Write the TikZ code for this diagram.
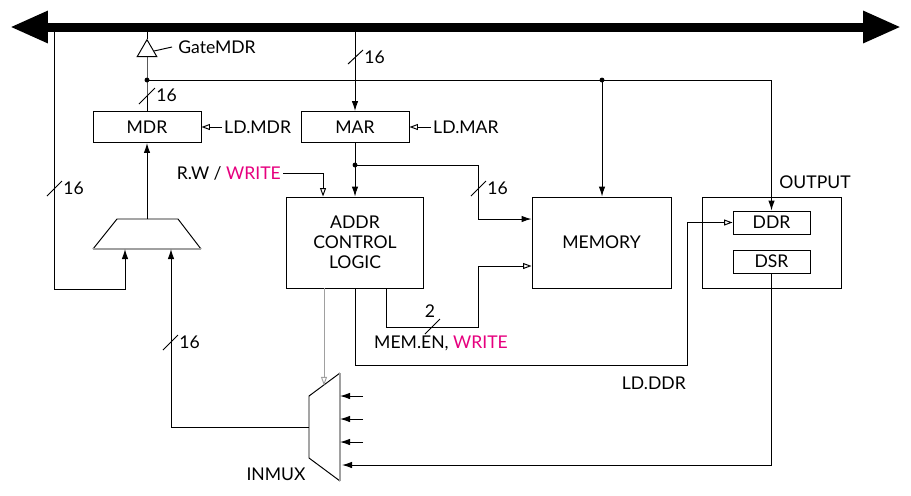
\documentclass[tikz,border=0pt]{standalone}
\usepackage{fontspec}
\setmainfont{Lato}
\usetikzlibrary{positioning}
\usetikzlibrary{arrows.meta}
\usetikzlibrary{shapes.geometric}
\definecolor{writemag}{RGB}{230,0,126}
\definecolor{muxgray}{RGB}{160,160,160}

\begin{document}
\begin{tikzpicture}[
        x = 0.02cm, y = -0.02cm, % one unit = one pixel of the drawing
        > = {Latex[length=2mm,width=1.3mm]}, % filled arrow head
        ctrl/.style = {-{Triangle[open,length=1.7mm,width=1.2mm]}}, % control signals
        line width = 0.55pt,
        font = \fontsize{10}{11.5}\selectfont,
        reg/.style = {draw, inner sep=0pt, align=center},
        bus/.style = {line width=0.18cm,
                      {Triangle[length=0.76cm,width=0.6cm]}-{Triangle[length=0.76cm,width=0.6cm]}},
        tristate/.style = {draw, isosceles triangle, shape border rotate=90,
                           isosceles triangle apex angle=60, inner sep=0pt, minimum size=0.34cm},
        widthlbl/.style = {anchor=north west, inner sep=0.5pt}
        ]
  \useasboundingbox (0,0) rectangle (911,495);

  % the bus
  \coordinate (busl) at (10,27);
  \coordinate (busr) at (901,27);
  \draw[bus] (busl) -- (busr);

  % blocks
  \node[reg, minimum width=2.16cm, minimum height=0.62cm] (mdr) at (147,127) {MDR};
  \node[reg, minimum width=2.16cm, minimum height=0.62cm] (mar) at (355,127) {MAR};
  \node[reg, minimum width=2.74cm, minimum height=1.82cm] (acl) at (355,242.5) {ADDR\\CONTROL\\LOGIC};
  \node[reg, minimum width=2.78cm, minimum height=1.82cm] (mem) at (601.5,242.5) {MEMORY};
  \node[reg, minimum width=2.78cm, minimum height=1.82cm] (out) at (771.5,242.5) {};
  \node (outlbl) at (815,182) {OUTPUT};
  \node[reg, minimum width=1.54cm, minimum height=0.46cm] (ddr) at (771.5,222.5) {DDR};
  \node[reg, minimum width=1.54cm, minimum height=0.46cm] (dsr) at (771.5,261.5) {DSR};

  % GateMDR
  \node[tristate] (gate) at (147,51) {};
  \node[anchor=west] (gatelbl) at (172,47) {GateMDR};
  \draw (gate.apex) -- (gate.apex |- busl);
  \draw (gate.east) -- (gatelbl.west);

  \coordinate (j1) at (147,80);
  \coordinate (j2) at (602,80);
  \coordinate (j3) at (355,165);
  \draw (gate.lower side) -- (j1) -- (mdr.north);
  \draw[->] (j1) -| (ddr.north);
  \draw[->] (j2) -- (j2 |- mem.north);
  \draw[->] (mar.north |- busl) -- (mar.north);
  \draw[->] (mar.south) -- (acl.north);
  \fill (j1) circle (1.4pt) (j2) circle (1.4pt) (j3) circle (1.4pt);

  % load signals
  \node[anchor=west, inner sep=1pt] (ldmdr) at (222,127) {LD.MDR};
  \node[anchor=west, inner sep=1pt] (ldmar) at (431,127) {LD.MAR};
  \draw[ctrl] (ldmdr.west) -- (mdr.east);
  \draw[ctrl] (ldmar.west) -- (mar.east);
  \node[anchor=east, inner sep=1pt] (rw) at (283,173) {R.W / \textcolor{writemag}{WRITE}};
  \draw[ctrl] (rw.east) -| ([xshift=0.74cm]acl.north west);

  % address to memory
  \coordinate (bend1) at (478,165);
  \coordinate (mema) at ([yshift=0.47cm]mem.west);
  \coordinate (memb) at ([yshift=-0.47cm]mem.west);
  \draw[->] (j3) -- (bend1) |- (mema);

  % MEM.EN, WRITE
  \coordinate (memen) at (478,327);
  \draw[ctrl] ([xshift=0.62cm]acl.south) |- (memen) |- (memb);
  \node (memenw) at (430,311) {2};
  \node (memenlbl) at (441,343) {MEM.EN, \textcolor{writemag}{WRITE}};

  % LD.DDR
  \coordinate (lddr) at (687,365);
  \draw[ctrl] (acl.south) |- (lddr) |- (ddr.west);
  \node[anchor=east, inner sep=1pt] (lddrlbl) at (688,383) {LD.DDR};

  % MDR mux
  \coordinate (mx1) at (93,249);
  \coordinate (mx2) at (117,219);
  \coordinate (mx3) at (178,219);
  \coordinate (mx4) at (201,249);
  \draw (mx1) -- (mx2) -- (mx3) -- (mx4);
  \draw[muxgray, line width=1.2pt] (mx1) -- (mx4);
  \draw[->] (mx2 -| mdr.south) -- (mdr.south);

  % INMUX
  \coordinate (im1) at (309,396);
  \coordinate (im2) at (340,373);
  \coordinate (im3) at (340,481);
  \coordinate (im4) at (309,458);
  \draw (im2) -- (im1) -- (im4) -- (im3);
  \draw[muxgray, line width=1.2pt] (im2) -- (im3);
  \node (inmux) at (276,474) {INMUX};
  \draw[ctrl, muxgray] ([xshift=-0.62cm]acl.south) -- ++(0,97);

  \foreach \y in {396,419,442} {
    \coordinate (imin) at (363,\y);
    \draw[->] (imin) -- (imin -| im3);
  }
  \draw[->] (dsr.south) |- (342,465);

  % mux inputs
  \coordinate (lb) at (54,27);
  \coordinate (lbend) at (125,289);
  \coordinate (imout) at (309,427);
  \draw[->] (lb) |- (lbend) -- (lbend |- mx1);
  \draw[->] (imout) -| (171,249);

  % widths
  \draw (139,104) -- (155,88) node[widthlbl] {16};
  \draw (348,64) -- (363,50) node[widthlbl] {16};
  \draw (47,196) -- (62,181) node[widthlbl] {16};
  \draw (471,196) -- (486,181) node[widthlbl] {16};
  \draw (163,350) -- (178,335) node[widthlbl] {16};
  \draw (425,334) -- (440,319);

\end{tikzpicture}
\end{document}
